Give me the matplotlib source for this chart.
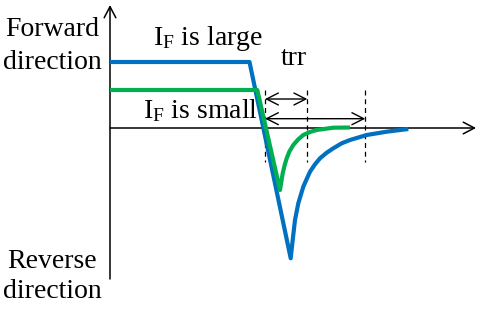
import matplotlib
matplotlib.use("Agg")
import matplotlib.pyplot as plt

# Diode reverse recovery sketch: time (t) vs current (i), arbitrary units
blue_t = [0, 139.5, 180.7, 182.7, 185, 188.3, 193.3, 196.7, 200, 205, 210,
          216.7, 223.3, 231.7, 240, 256.7, 276.7, 298.3]
blue_i = [66, 66, -130.3, -112, -92, -75.3, -58.7, -51, -43.7, -36.3, -30.3,
          -24.7, -20.3, -15.3, -12, -7, -3.7, -1]

green_t = [0, 147.3, 170, 172.7, 174.7, 176.7, 179.3, 183.3, 188.3, 193.3,
           200, 206.7, 223.3, 240]
green_i = [38, 38, -62, -45.3, -37, -30.3, -23.7, -17, -11.3, -7,
           -4, -2, 0.3, 0.5]

# trr markers
trr_start = 155
trr_small = 197.3
trr_large = 255.3
marker_top = 38
marker_bottom = -34

labels = {
    "fwd": "Forward\ndirection",
    "rev": "Reverse\ndirection",
    "large": r"$\mathregular{I_F}$ is large",
    "small": r"$\mathregular{I_F}$ is small",
    "trr": "trr",
}

plt.rcParams["font.family"] = ["Liberation Serif", "DejaVu Serif"]
plt.rcParams["mathtext.fontset"] = "custom"
plt.rcParams["mathtext.rm"] = "Liberation Serif"

fig = plt.figure(figsize=(4.82, 3.12), dpi=100)
ax = fig.add_axes([0, 0, 1, 1])
ax.set_xlim(-110, 372)
ax.set_ylim(-184, 128)
ax.axis("off")

blue = "#0070C0"
green = "#00B050"

# axes arrows
axis_arrow = dict(arrowstyle="->,head_length=0.8,head_width=0.42", lw=1.1,
                  color="black", shrinkA=0, shrinkB=0)
ax.annotate("", xy=(0, 123), xytext=(0, -151), arrowprops=axis_arrow)
ax.annotate("", xy=(366, 0), xytext=(0, 0), arrowprops=axis_arrow)

# curves
ax.plot(blue_t, blue_i, color=blue, lw=3, solid_joinstyle="round",
        solid_capstyle="butt", zorder=3)
ax.plot(green_t, green_i, color=green, lw=3, solid_joinstyle="round",
        solid_capstyle="butt", zorder=4)

# dashed markers
for t in [trr_start, trr_small, trr_large]:
    ax.plot([t, t], [marker_top, marker_bottom], color="black", lw=0.9,
            linestyle=(0, (4, 3)), zorder=2)

dbl = dict(arrowstyle="<->,head_length=0.85,head_width=0.43", lw=1.0,
           color="black", shrinkA=0, shrinkB=0)
ax.annotate("", xy=(trr_small, 29), xytext=(trr_start, 29), arrowprops=dbl)
ax.annotate("", xy=(trr_large, 9.3), xytext=(trr_start, 9.3), arrowprops=dbl)

fs = 20
ax.text(-58, 82, labels["fwd"], fontsize=fs, ha="center", va="center",
        multialignment="center", linespacing=1.38)
ax.text(-58, -148.5, labels["rev"], fontsize=fs, ha="center", va="center",
        multialignment="center", linespacing=1.3)
ax.text(98, 83, labels["large"], fontsize=fs, ha="center", va="baseline")
ax.text(90, 9.7, labels["small"], fontsize=fs, ha="center", va="baseline")
ax.text(183.7, 63, labels["trr"], fontsize=fs, ha="center", va="baseline")

fig.savefig("out.png", dpi=100)
